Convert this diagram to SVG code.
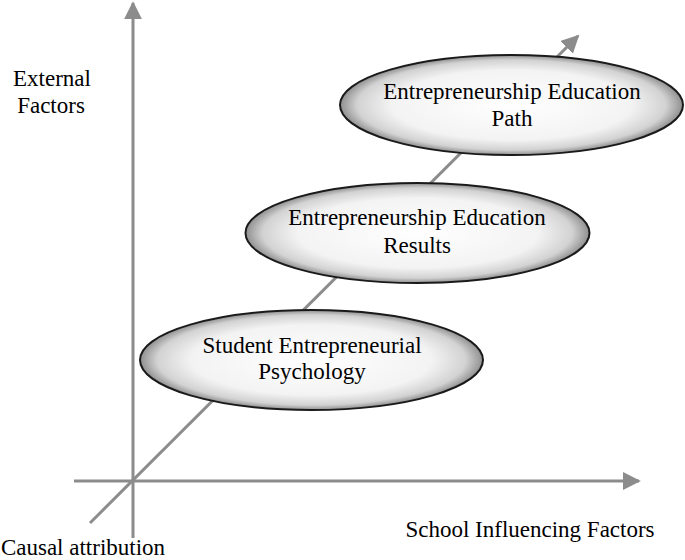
<svg xmlns="http://www.w3.org/2000/svg" width="685" height="560" viewBox="0 0 685 560">
<style>
text{font-family:"Liberation Serif","Times New Roman","DejaVu Serif",serif;font-size:23px;fill:#000;text-anchor:middle}
.axis{stroke:#8c8c8c;stroke-width:3;fill:none}
.node ellipse{fill:url(#g);stroke:#1a1a1a;stroke-width:2}
</style>
<defs>
<radialGradient id="g" cx="50%" cy="50%" r="50%">
<stop offset="0" stop-color="#ffffff"/>
<stop offset="0.7" stop-color="#f3f3f3"/>
<stop offset="0.9" stop-color="#d2d2d2"/>
<stop offset="1" stop-color="#8f8f8f"/>
</radialGradient>
<marker id="ah" viewBox="0 0 10 10" refX="9" refY="5" markerWidth="6" markerHeight="6" markerUnits="strokeWidth" orient="auto">
<path d="M0,0 L10,5 L0,10 z" fill="#8c8c8c"/>
</marker>
</defs>
<g id="connectors">
<line class="axis" x1="133" y1="538" x2="133" y2="3" marker-end="url(#ah)"/>
<line class="axis" x1="74" y1="481" x2="639" y2="481" marker-end="url(#ah)"/>
<line class="axis" x1="90" y1="523" x2="578" y2="36" marker-end="url(#ah)"/>
</g>
<g id="label-external"><text x="52" y="86">External</text><text x="51" y="113">Factors</text></g>
<g id="label-school"><text x="530" y="537">School Influencing Factors</text></g>
<g id="label-causal"><text x="83" y="555">Causal attribution</text></g>
<g id="node-psychology" class="node">
<ellipse cx="311.5" cy="360" rx="171.5" ry="50"/>
<text x="312" y="353">Student Entrepreneurial</text>
<text x="312" y="379">Psychology</text>
</g>
<g id="node-results" class="node">
<ellipse cx="417.5" cy="233" rx="172" ry="50"/>
<text x="417" y="225">Entrepreneurship Education</text>
<text x="417" y="253">Results</text>
</g>
<g id="node-path" class="node">
<ellipse cx="511.5" cy="105" rx="171.5" ry="50"/>
<text x="512" y="99">Entrepreneurship Education</text>
<text x="512" y="126">Path</text>
</g>
</svg>
